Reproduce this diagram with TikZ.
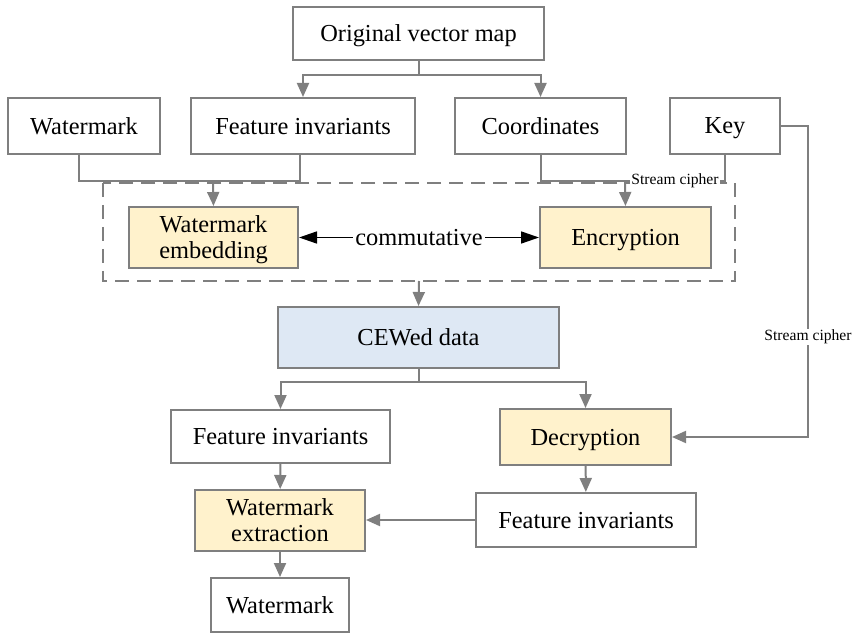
\documentclass[tikz,border=0pt]{standalone}
\usepackage{fontspec}
\setmainfont{Liberation Serif}
\usepackage{tikz}
\usetikzlibrary{ arrows.meta, calc, positioning }
\definecolor{linegray}{HTML}{7F7F7F}
\definecolor{boxyellow}{HTML}{FFF2CC}
\definecolor{boxblue}{HTML}{DEE8F4}
\tikzset{
>={Triangle[length=7pt,width=6pt]}, % gray filled heads
every node/.style={inner sep=1pt},
block/.style={draw=linegray, line width=1pt, fill=white, font=\fontsize{12.2}{13}\selectfont, align=center, inner sep=0pt, text depth=0pt},
process/.style={block, fill=boxyellow},
datablock/.style={block, fill=boxblue},
link/.style={draw=linegray, line width=1pt},
tag/.style={font=\fontsize{7.8}{8}\selectfont, fill=white, inner sep=0.5pt},
}

\begin{document}
\begin{tikzpicture}[x=0.5pt,y=-0.5pt]
  \useasboundingbox (0,0) rectangle (854,635);
  % top row
  \node[block, minimum width=125.5pt, minimum height=26.5pt] (map) at (418.5,33.5) {Original vector map};
  \node[block, minimum width=76pt, minimum height=28pt] (wm) at (84,126) {Watermark};
  \node[block, minimum width=112pt, minimum height=28pt] (fi) at (303,126) {Feature invariants};
  \node[block, minimum width=85.5pt, minimum height=28pt] (coord) at (540.5,126) {Coordinates};
  \node[block, minimum width=55pt, minimum height=28pt] (key) at (725,126) {Key};

  % commutative part
  \draw[linegray, line width=1pt, dash pattern=on 7pt off 4pt] (103,183) rectangle (735,281);
  \coordinate (boxtop) at (419,183);
  \coordinate (boxbot) at (419,281);
  \node[process, minimum width=84.5pt, minimum height=30.5pt] (embed) at (213.5,237.5) {Watermark\\embedding};
  \node[process, minimum width=85.5pt, minimum height=30.5pt] (enc) at (625.5,237.5) {Encryption};
  \draw[{Triangle[length=9pt,width=6pt]}-{Triangle[length=9pt,width=6pt]}, line width=0.8pt] (embed) -- node[fill=white, font=\fontsize{12.2}{13}\selectfont]{commutative} (enc);

  \node[datablock, minimum width=140.5pt, minimum height=30.5pt] (cew) at (418.5,337.5) {CEWed data};

  % extraction
  \node[block, minimum width=109.5pt, minimum height=26.5pt] (fi2) at (280.5,436.5) {Feature invariants};
  \node[process, minimum width=85.5pt, minimum height=28pt] (dec) at (585.5,437) {Decryption};
  \node[process, minimum width=85pt, minimum height=30.5pt] (ext) at (280,520.5) {Watermark\\extraction};
  \node[block, minimum width=110pt, minimum height=27pt] (fi3) at (586,520) {Feature invariants};
  \node[block, minimum width=69pt, minimum height=27pt] (wm2) at (280,605) {Watermark};

  % connectors
  \draw[link] (map.south) -- ++(0,14) coordinate (split1);
  \draw[link,->] (split1) -| (fi.north);
  \draw[link,->] (split1) -| (coord.north);

  \draw[link] (wm.south -| 79,0) |- (213,181) coordinate (join1);
  \draw[link] (fi.south -| 300,0) |- (join1);
  \draw[link,->] (join1) -- (embed.north);

  \draw[link] (coord.south) |- (625,181) coordinate (join2);
  \draw[link] (key.south) |- node[tag, pos=0.75]{Stream cipher} (join2);
  \draw[link,->] (join2) -- (enc.north);

  \draw[link,->] (key.east) -| (808,337) node[tag]{Stream cipher} |- (dec.east);

  \draw[link,->] (boxbot) -- (cew.north);
  \draw[link] (cew.south) -- ++(0,13) coordinate (split2);
  \draw[link,->] (split2) -| (fi2.north);
  \draw[link,->] (split2) -| (dec.north);

  \draw[link,->] (fi2) -- (ext);
  \draw[link,->] (dec) -- (fi3);
  \draw[link,->] (fi3.west) -- (fi3.west -| ext.east);
  \draw[link,->] (ext) -- (wm2);
\end{tikzpicture}
\end{document}
